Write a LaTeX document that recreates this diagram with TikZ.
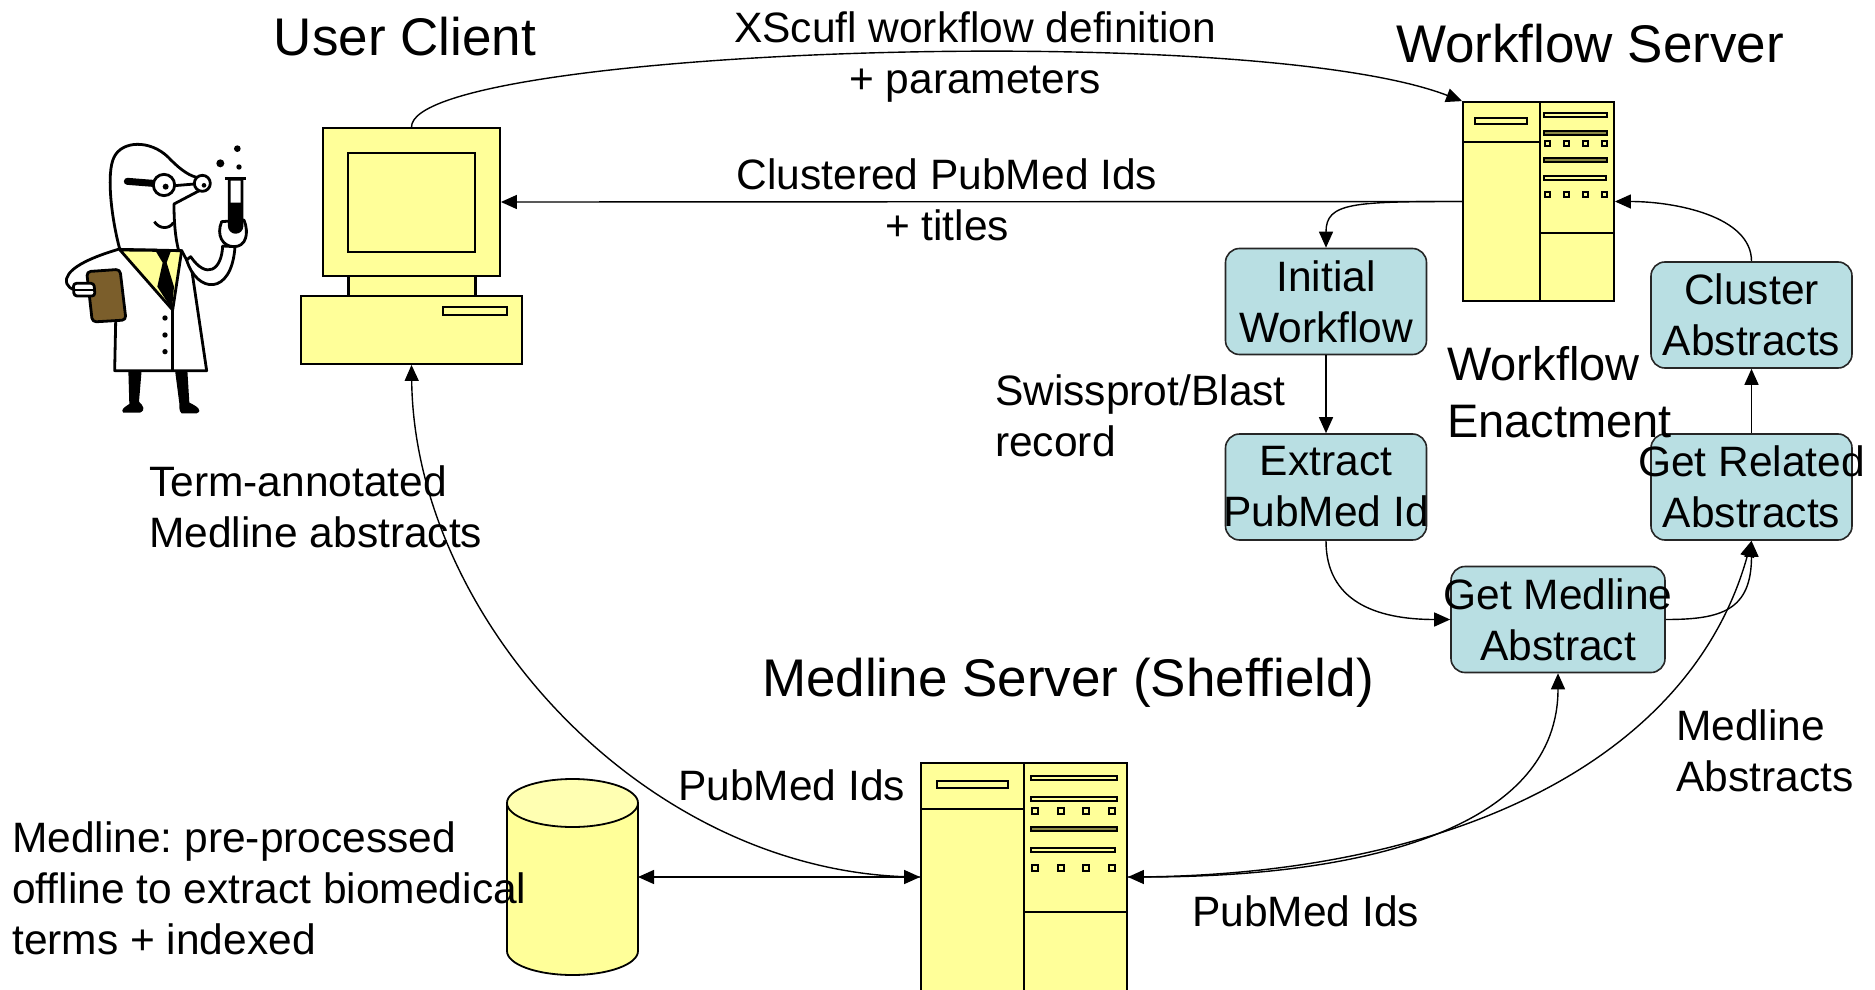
\documentclass[tikz,border=0pt]{standalone}
\usepackage{fontspec}
\setmainfont{Liberation Sans}
\usetikzlibrary{arrows.meta}
\definecolor{yel}{HTML}{FFFF99}
\definecolor{procblue}{HTML}{B9DFE3}
\definecolor{clipbrown}{HTML}{7B5E2B}
\definecolor{olv}{HTML}{8C8A45}
\frenchspacing

\begin{document}
\begin{tikzpicture}[x=1pt,y=-1pt,
  shp/.style={draw=black, line width=1.8pt, fill=yel},
  srv/.style={shp, rectangle, inner sep=0pt},
  part/.style={draw=black, line width=1.8pt},
  fine/.style={draw=black, line width=1.2pt},
  wbox/.style={draw=black!85, line width=1.6pt, fill=procblue, rounded corners=14pt,
    minimum width=201pt, minimum height=106pt, inner sep=0pt, align=center,
    font=\fontsize{42.5}{51}\selectfont},
  lbl/.style={inner sep=0pt, font=\fontsize{42.5}{51}\selectfont},
  ttl/.style={inner sep=0pt, font=\fontsize{53}{60}\selectfont},
  tip/.tip={Triangle[length=16pt,width=14pt]},
  arr/.style={line width=1.4pt, -tip},
  darr/.style={line width=1.4pt, tip-tip},
]
\useasboundingbox (0,0) rectangle (1875,990);

% ---------------- scientist clip art ----------------
\begin{scope}[shift={(40,120)}, scale=1/3, line width=2.8pt, line join=round]
  % legs
  \fill (265,750) -- (305,750) -- (297,845) .. controls (310,858) and (318,870) .. (300,878)
        -- (250,878) .. controls (240,870) and (255,860) .. (268,852) -- cycle;
  \fill (405,750) -- (442,750) -- (448,848) .. controls (470,858) and (490,872) .. (470,880)
        -- (425,880) .. controls (415,872) and (420,860) .. (418,850) -- cycle;
  % head
  \filldraw[fill=white] (240,390) .. controls (215,300) and (198,160) .. (222,112)
     .. controls (245,62) and (330,58) .. (385,112)
     .. controls (410,138) and (440,165) .. (470,172) -- (478,212) -- (402,252)
     .. controls (402,300) and (405,350) .. (416,392) -- cycle;
  % glasses
  \draw[line width=7pt, line cap=round] (262,184) -- (338,190);
  \draw (404,197) -- (463,192);
  \filldraw[fill=white] (372,195) circle (32);
  \filldraw[fill=white] (487,190) circle (24);
  \fill (377,200) circle (9);
  \fill (492,196) circle (7);
  % smile
  \draw (343,305) .. controls (358,328) and (388,328) .. (400,308);
  % coat
  \filldraw[fill=white] (235,388) .. controls (160,410) and (90,440) .. (80,475)
     .. controls (75,500) and (95,510) .. (120,512) -- (228,560) -- (224,752)
     -- (500,752) -- (455,448) -- (425,392) -- cycle;
  % raised sleeve
  \filldraw[fill=white] (440,420) .. controls (470,520) and (575,530) .. (585,380)
     -- (548,378) .. controls (545,450) and (500,480) .. (452,410) -- cycle;
  % shirt and tie
  \filldraw[fill=yel] (240,390) -- (425,392) -- (398,570) -- cycle;
  \fill (348,395) -- (392,395) -- (380,428) -- (402,500) -- (396,568) -- (352,500)
        -- (368,428) -- cycle;
  \draw (398,570) -- (398,752);
  % buttons
  \fill (375,594) circle (8);
  \fill (375,645) circle (8);
  \fill (375,695) circle (8);
  % clipboard and fingers
  \filldraw[fill=clipbrown, rounded corners=4pt] (140,455) -- (240,448) -- (258,600)
     -- (157,606) -- cycle;
  \filldraw[fill=white, rounded corners=3pt] (100,490) -- (162,490) -- (165,528)
     -- (102,528) -- cycle;
  \draw (105,510) -- (160,510);
  % hand with test tube
  \filldraw[fill=white] (545,305) .. controls (528,345) and (548,380) .. (582,380)
     .. controls (618,380) and (628,340) .. (612,300) -- cycle;
  \filldraw[fill=white] (568,178) -- (568,318) arc[start angle=180, end angle=0, radius=19]
     -- (606,178) -- cycle;
  \fill (568,248) -- (568,318) arc[start angle=180, end angle=0, radius=19]
     -- (606,248) -- cycle;
  \draw[line width=3.5pt] (555,176) -- (619,176);
  \fill (541,130) circle (12);
  \fill (592,86) circle (10);
  \fill (597,141) circle (8);
\end{scope}

% ---------------- user client computer ----------------
\filldraw[part, fill=yel] (348,276) rectangle (475,296);
\draw[line width=3pt] (348,276) -- (348,296) (475,276) -- (475,296);
\node[srv, minimum width=177pt, minimum height=148pt] (mon) at (411.5,202) {};
\filldraw[part, fill=yel] (348,153) rectangle (475,252);
\node[srv, minimum width=221pt, minimum height=68pt] (base) at (411.5,330) {};
\filldraw[part, fill=yel] (443,307) rectangle (507,315);

% ---------------- workflow server ----------------
\node[srv, minimum width=151pt, minimum height=199pt] (wfs) at (1538.5,201.5) {};
\draw[part] (1540,102) -- (1540,301);
\draw[part] (1463,142) -- (1540,142);
\draw[part] (1540,233) -- (1614,233);
\filldraw[fine, fill=yel] (1475,118) rectangle (1527,124);
\filldraw[fine, fill=yel] (1544,113) rectangle (1607,117);
\filldraw[fine, fill=olv] (1544,131) rectangle (1607,135);
\filldraw[fine, fill=olv] (1544,158) rectangle (1607,162);
\filldraw[fine, fill=yel] (1544,176) rectangle (1606,180);
\foreach \dx in {1545,1564,1583,1602} {
  \filldraw[fine, fill=yel] (\dx,141) rectangle ++(5,5);
  \filldraw[fine, fill=yel] (\dx,192) rectangle ++(5,5);
}

% ---------------- medline server ----------------
\node[srv, minimum width=206pt, minimum height=228pt] (ms) at (1024,877) {};
\draw[part] (1024,763) -- (1024,991);
\draw[part] (921,809) -- (1024,809);
\draw[part] (1024,912) -- (1127,912);
\filldraw[fine, fill=yel] (937,781) rectangle (1008,788);
\filldraw[fine, fill=yel] (1031,776) rectangle (1117,780);
\filldraw[fine, fill=yel] (1031,797) rectangle (1117,801);
\filldraw[fine, fill=olv] (1031,827) rectangle (1117,831);
\filldraw[fine, fill=yel] (1031,848) rectangle (1115,852);
\foreach \dx in {1032,1058,1083,1109} {
  \filldraw[fine, fill=yel] (\dx,808) rectangle ++(6,6);
  \filldraw[fine, fill=yel] (\dx,865) rectangle ++(6,6);
}

% ---------------- medline database ----------------
\fill[yel] (507,803) rectangle (638,951);
\fill[yel] (572.5,951) ellipse [x radius=65.5, y radius=24];
\draw[part] (507,803) -- (507,951) arc[start angle=180, end angle=0, x radius=65.5, y radius=24]
  -- (638,803);
\filldraw[part, fill=yel!75!white] (572.5,803) ellipse [x radius=65.5, y radius=24];
\coordinate (db) at (638,877);

% ---------------- workflow steps ----------------
\node[wbox] (iw) at (1326,301.5) {\makebox[0pt]{Initial}\\\makebox[0pt]{Workflow}};
\node[wbox] (ep) at (1326,487) {\makebox[0pt]{Extract}\\\makebox[0pt]{PubMed Id}};
\node[wbox] (ca) at (1751.5,315) {\makebox[0pt]{Cluster}\\\makebox[0pt]{Abstracts}};
\node[wbox] (gr) at (1751.5,487) {\makebox[0pt]{Get Related}\\\makebox[0pt]{Abstracts}};
\node[wbox, minimum width=214pt] (gm) at (1558,619.5) {\makebox[0pt]{Get Medline}\\\makebox[0pt]{Abstract}};

% ---------------- connectors ----------------
\draw[arr] (mon.north) .. controls +(0,-78) and +(-213,-82) .. (wfs.north west);
\draw[arr] (wfs.west) -- (mon.east);
\draw[arr] (wfs.west) .. controls +(-110,0) and +(0,-45) .. (iw.north);
\draw[arr] (iw.south) -- (ep.north);
\draw[arr] (ep.south) .. controls +(0,60) and +(-75,0) .. (gm.west);
\draw[arr] (gm.east) .. controls +(55,0) and +(0,70) .. (gr.south);
\draw[arr] (gr.north) -- (ca.south);
\draw[arr] (ca.north) .. controls +(0,-45) and +(60,0) .. (wfs.east);
\draw[darr] (ms.east) .. controls +(250,0) and +(0,150) .. (gm.south);
\draw[arr] (ms.east) .. controls +(323,0) and +(-61,220) .. (gr.south);
\draw[arr] (ms.west) .. controls +(-271,0) and +(3,256) .. (base.south);
\draw[darr] (db) -- (ms.west);

% ---------------- titles and labels ----------------
\node[ttl, anchor=base] (tuc) at (405,56) {User Client};
\node[ttl, anchor=base] (tws) at (1590,63) {Workflow Server};
\node[ttl, anchor=base] (tms) at (1068,696) {Medline Server (Sheffield)};
\node[lbl, anchor=north, align=center] (lxs) at (975,12) {XScufl workflow definition\\+ parameters};
\node[lbl, anchor=north, align=center] (lcl) at (947,159) {Clustered PubMed Ids\\+ titles};
\node[lbl, anchor=north west, align=left] (lsw) at (995,375) {Swissprot/Blast\\record};
\node[lbl, anchor=north west, align=left] (lta) at (149,465) {Term-annotated\\Medline abstracts};
\node[lbl, anchor=north west, align=left] (lmd) at (12,821) {Medline: pre-processed\\offline to extract biomedical\\terms + indexed};
\node[lbl, anchor=north west, align=left] (lma) at (1676,709) {Medline\\Abstracts};
\node[lbl, anchor=base west] (lp1) at (678,800) {PubMed Ids};
\node[lbl, anchor=base west] (lp2) at (1192,926) {PubMed Ids};
\node[inner sep=0pt, font=\fontsize{47}{57}\selectfont, anchor=north west, align=left] (lwe)
  at (1447,346) {Workflow\\Enactment};
\end{tikzpicture}
\end{document}
